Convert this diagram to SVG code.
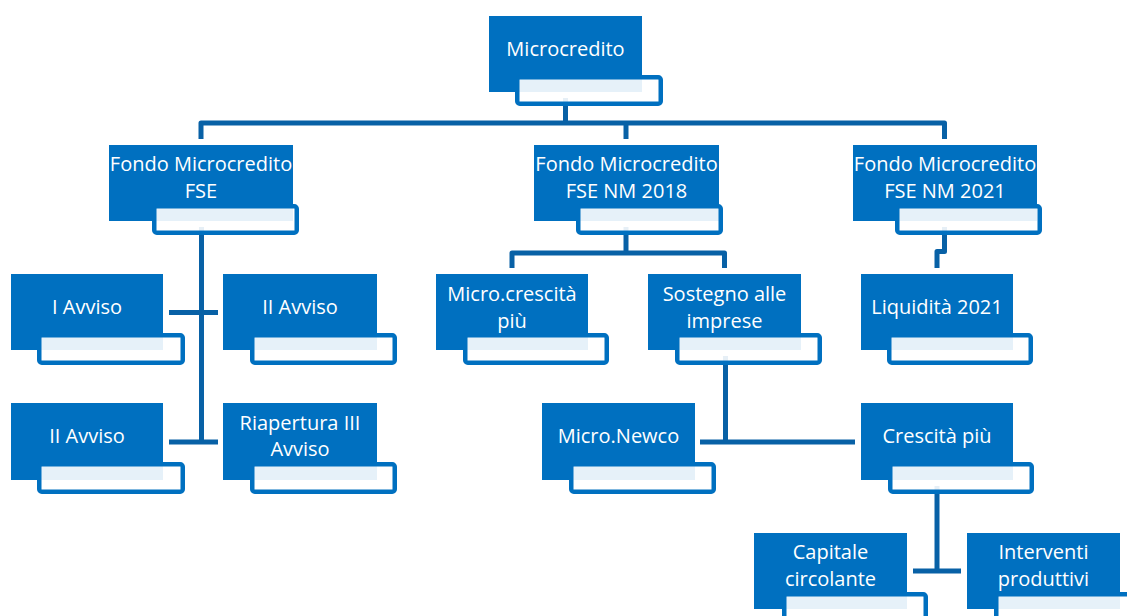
<svg xmlns="http://www.w3.org/2000/svg" width="1127" height="616" viewBox="0 0 1127 616">
<style>
.box{fill:#0070C0;}
.lbl{fill:#FFFFFF;fill-opacity:0.9;stroke:#0070C0;stroke-width:4.5;}
.t{font-family:"Open Sans","Noto Sans","Liberation Sans",sans-serif;font-size:20px;fill:#FFFFFF;text-anchor:middle;}
.c{fill:none;stroke:#0861A6;stroke-width:5;stroke-linejoin:round;}
</style>
<rect width="1127" height="616" fill="#FFFFFF"/>
<g id="connectors">
<path class="c" d="M565.5,98 V123"/>
<path class="c" d="M201,139 V123 H944.5 V139"/>
<path class="c" d="M626,123 V139"/>
<path class="c" d="M201.5,227 V443"/>
<path class="c" d="M169,312.5 H218"/>
<path class="c" d="M169,442 H218"/>
<path class="c" d="M626,227 V253"/>
<path class="c" d="M512,268 V253 H724.5 V268"/>
<path class="c" d="M944.5,227 V251.5 H937 V268"/>
<path class="c" d="M725.5,356 V442"/>
<path class="c" d="M700,442 H855"/>
<path class="c" d="M937,486 V571"/>
<path class="c" d="M913,571 H961"/>
</g>
<g id="n-microcredito">
<rect class="box" x="489" y="16" width="153" height="76"/>
<rect class="lbl" x="517.25" y="77.25" width="143.5" height="26.5" rx="2.5"/>
<text class="t" x="565.5" y="55.5">Microcredito</text>
</g>
<g id="n-fondo-fse">
<rect class="box" x="109" y="145" width="184" height="76"/>
<rect class="lbl" x="154.25" y="206.25" width="142.5" height="26.5" rx="2.5"/>
<text class="t" x="201" y="171">Fondo Microcredito</text>
<text class="t" x="201" y="198">FSE</text>
</g>
<g id="n-fondo-nm2018">
<rect class="box" x="534" y="145" width="185" height="76"/>
<rect class="lbl" x="578.25" y="206.25" width="142.5" height="26.5" rx="2.5"/>
<text class="t" x="626.5" y="171">Fondo Microcredito</text>
<text class="t" x="626.5" y="198">FSE NM 2018</text>
</g>
<g id="n-fondo-nm2021">
<rect class="box" x="853" y="145" width="184" height="76"/>
<rect class="lbl" x="897.25" y="206.25" width="142.5" height="26.5" rx="2.5"/>
<text class="t" x="945" y="171">Fondo Microcredito</text>
<text class="t" x="945" y="198">FSE NM 2021</text>
</g>
<g id="n-i-avviso">
<rect class="box" x="11" y="274" width="152" height="76"/>
<rect class="lbl" x="39.25" y="335.25" width="143.5" height="27.5" rx="2.5"/>
<text class="t" x="87" y="313.5">I Avviso</text>
</g>
<g id="n-ii-avviso-a">
<rect class="box" x="223" y="274" width="154" height="76"/>
<rect class="lbl" x="252.25" y="335.25" width="142.5" height="27.5" rx="2.5"/>
<text class="t" x="300" y="313.5">II Avviso</text>
</g>
<g id="n-ii-avviso-b">
<rect class="box" x="11" y="403" width="152" height="77"/>
<rect class="lbl" x="39.25" y="464.25" width="143.5" height="27.5" rx="2.5"/>
<text class="t" x="87" y="442.5">II Avviso</text>
</g>
<g id="n-riapertura">
<rect class="box" x="223" y="403" width="154" height="77"/>
<rect class="lbl" x="252.25" y="464.25" width="142.5" height="27.5" rx="2.5"/>
<text class="t" x="300" y="429.5">Riapertura III</text>
<text class="t" x="300" y="456">Avviso</text>
</g>
<g id="n-microcrescita">
<rect class="box" x="436" y="274" width="152" height="76"/>
<rect class="lbl" x="465.25" y="335.25" width="141.5" height="27.5" rx="2.5"/>
<text class="t" x="512" y="301">Micro.crescità</text>
<text class="t" x="512" y="328">più</text>
</g>
<g id="n-sostegno">
<rect class="box" x="648" y="274" width="153" height="76"/>
<rect class="lbl" x="677.25" y="335.25" width="142.5" height="27.5" rx="2.5"/>
<text class="t" x="724.5" y="301">Sostegno alle</text>
<text class="t" x="724.5" y="328">imprese</text>
</g>
<g id="n-liquidita">
<rect class="box" x="861" y="274" width="152" height="76"/>
<rect class="lbl" x="889.25" y="335.25" width="141.5" height="27.5" rx="2.5"/>
<text class="t" x="937" y="313.5">Liquidità 2021</text>
</g>
<g id="n-micronewco">
<rect class="box" x="542" y="403" width="153" height="77"/>
<rect class="lbl" x="571.25" y="464.25" width="142.5" height="27.5" rx="2.5"/>
<text class="t" x="618.5" y="442.5">Micro.Newco</text>
</g>
<g id="n-crescita">
<rect class="box" x="861" y="403" width="152" height="77"/>
<rect class="lbl" x="890.25" y="464.25" width="141.5" height="27.5" rx="2.5"/>
<text class="t" x="937" y="442.5">Crescità più</text>
</g>
<g id="n-capitale">
<rect class="box" x="754" y="533" width="153" height="76"/>
<rect class="lbl" x="784.25" y="594.25" width="141.5" height="27.5" rx="2.5"/>
<text class="t" x="830.5" y="559">Capitale</text>
<text class="t" x="830.5" y="586">circolante</text>
</g>
<g id="n-interventi">
<rect class="box" x="967" y="533" width="153" height="76"/>
<rect class="lbl" x="996.25" y="594.25" width="142.5" height="27.5" rx="2.5"/>
<text class="t" x="1043.5" y="559">Interventi</text>
<text class="t" x="1043.5" y="586">produttivi</text>
</g>
</svg>
